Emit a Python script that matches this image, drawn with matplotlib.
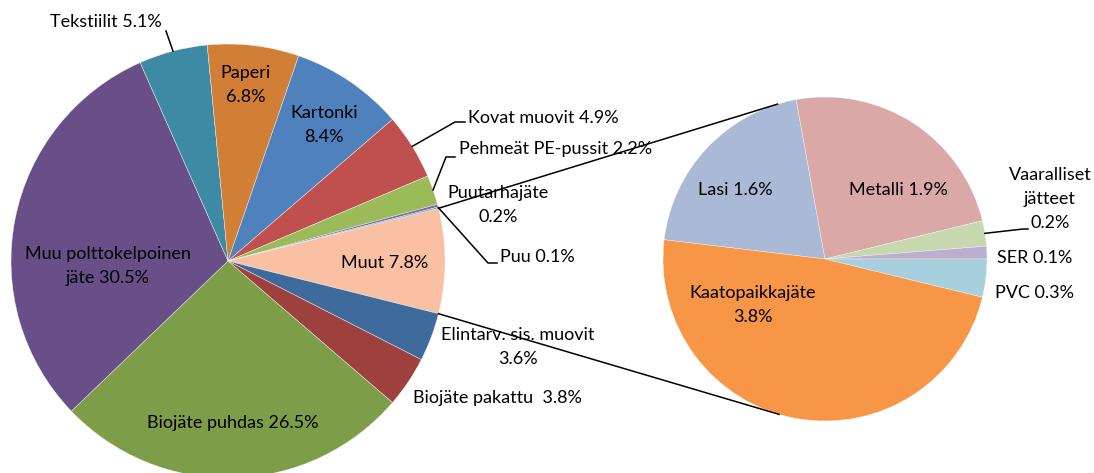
import numpy as np
import matplotlib
matplotlib.use("Agg")
import matplotlib.pyplot as plt

plt.rcParams['font.family'] = ['Lato', 'DejaVu Sans']

W, H = 1094, 473

# main pie, clockwise from "Muut" (3 o'clock)
left_names = ["Muut 7.8%", "Elintarv. sis. muovit\n3.6%", "Biojäte pakattu  3.8%",
              "Biojäte puhdas 26.5%", "Muu polttokelpoinen\njäte 30.5%", "Tekstiilit 5.1%",
              "Paperi\n6.8%", "Kartonki\n8.4%", "Kovat muovit 4.9%",
              "Pehmeät PE-pussit 2.2%", "Puutarhajäte\n0.2%", "Puu 0.1%"]
left_values = [7.8, 3.6, 3.8, 26.5, 30.5, 5.1, 6.8, 8.4, 4.9, 2.2, 0.2, 0.1]
left_colors = ["#F9C0A4", "#3E6A9C", "#9D403E", "#7E9D48", "#694F87", "#3C8AA4",
               "#D17E37", "#4F81BD", "#C0504D", "#9BBB59", "#8064A2", "#4BACC6"]

# secondary pie (breakdown of "Muut"), clockwise from Lasi
right_names = ["Lasi 1.6%", "Metalli 1.9%", "Vaaralliset\njätteet\n0.2%", "SER 0.1%",
               "PVC 0.3%", "Kaatopaikkajäte\n3.8%"]
right_values = [1.6, 1.9, 0.2, 0.1, 0.3, 3.8]
right_colors = ["#A9B9D6", "#D9A8A7", "#C7D7AE", "#BAAFCD", "#A8CFDD", "#F79647"]


def px(x, y):
    # image pixel -> data coords (y up)
    return x, H - y


fig = plt.figure(figsize=(W / 100, H / 100), dpi=100)
ax = fig.add_axes([0, 0, 1, 1])

c1, r1 = px(228, 261), 217
c2, r2 = px(825, 259), 162

start1 = 360 * left_values[0] / sum(left_values) / 2
w1, _ = ax.pie(left_values, colors=left_colors, startangle=start1, counterclock=False,
               center=c1, radius=r1, wedgeprops=dict(edgecolor="#f4f4f4", linewidth=0.3))
start2 = 360 * sum(right_values[:4]) / sum(right_values)
w2, _ = ax.pie(right_values, colors=right_colors, startangle=start2, counterclock=False,
               center=c2, radius=r2, wedgeprops=dict(edgecolor="#f4f4f4", linewidth=0.3))

ax.set_xlim(0, W)
ax.set_ylim(0, H)
ax.set_aspect("equal")
ax.axis("off")

# connector lines: from the edges of "Muut" tangent to the second pie
for th in (w1[0].theta1, w1[0].theta2):
    p = np.array(c1) + r1 * np.array([np.cos(np.radians(th)), np.sin(np.radians(th))])
    v = p - np.array(c2)
    d = np.hypot(*v)
    a0 = np.arctan2(v[1], v[0])
    da = np.arccos(r2 / d)
    a = a0 - da if th > 0 else a0 + da
    q = np.array(c2) + r2 * np.array([np.cos(a), np.sin(a)])
    ax.plot([p[0], q[0]], [p[1], q[1]], color="black", lw=1.1, zorder=5)

fs = 13
ls = 1.6

# label positions (image pixels): (x, y, ha)
lpos = {
    0: (385, 263, "center"), 1: (518, 347, "center"), 2: (413, 398, "left"),
    3: (233, 423, "center"), 4: (108, 266, "center"), 5: (106, 22, "center"),
    6: (246, 85, "center"), 7: (324, 125, "center"), 8: (468, 118, "left"),
    9: (459, 149, "left"), 10: (498, 205, "center"), 11: (500, 257, "left"),
}
for i, (x, y, ha) in lpos.items():
    ax.text(*px(x, y), left_names[i], ha=ha, va="center", fontsize=fs,
            linespacing=ls, zorder=6)

rpos = {
    0: (735, 190, "center"), 1: (898, 190, "center"), 2: (1050, 199, "center"),
    3: (997, 258, "left"), 4: (995, 293, "left"), 5: (753, 305, "center"),
}
for i, (x, y, ha) in rpos.items():
    ax.text(*px(x, y), right_names[i], ha=ha, va="center", fontsize=fs,
            linespacing=ls, zorder=6)


# leader lines: wedge edge -> elbow -> end
def leader(wedge, center, r, elbow, end):
    th = np.radians((wedge.theta1 + wedge.theta2) / 2)
    p = (center[0] + r * np.cos(th), center[1] + r * np.sin(th))
    e = px(*elbow)
    f = px(*end)
    ax.plot([p[0], e[0], f[0]], [p[1], e[1], f[1]], color="black", lw=1.1, zorder=5)


leader(w1[5], c1, r1, (166, 31), (166, 31))
leader(w1[8], c1, r1, (455, 122), (465, 122))
leader(w1[9], c1, r1, (446, 157), (455, 157))
leader(w1[11], c1, r1, (488, 263), (497, 263))
leader(w2[2], c2, r2, (1023, 229), (1028, 229))

fig.savefig("out.png", dpi=100)
